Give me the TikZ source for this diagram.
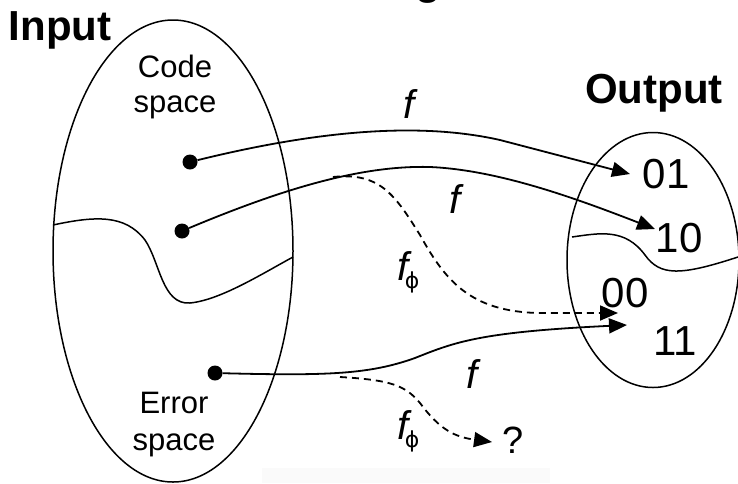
\documentclass[tikz,border=0pt]{standalone}
\usepackage{fontspec}
\setmainfont{Liberation Sans}
\newfontfamily\dvs{DejaVu Sans}
\usetikzlibrary{arrows.meta,shapes.geometric}
\begin{document}
\begin{tikzpicture}[x=1pt,y=-1pt,
  region/.style={draw,line width=1.5pt,ellipse,inner sep=0},
  border/.style={line width=1.5pt},
  map/.style={line width=1.8pt,-{Triangle[length=18pt,width=15pt]}},
  errmap/.style={map,dash pattern=on 7pt off 5pt},
  dot/.style={circle,fill,inner sep=0,minimum size=15pt},
  lbl/.style={inner sep=0,anchor=base},
  head/.style={lbl,font=\fontsize{42}{42}\selectfont\bfseries},
  spacelbl/.style={lbl,font=\fontsize{31}{35}\selectfont},
  bits/.style={lbl,font=\fontsize{42}{42}\selectfont},
  flbl/.style={lbl,font=\fontsize{40}{40}\selectfont\itshape},
  phlbl/.style={lbl,font=\fontsize{22}{22}\dvs},
  qlbl/.style={lbl,font=\fontsize{38}{38}\selectfont}]
\useasboundingbox (0,0) rectangle (738,483);
\fill[black!2] (262,468) rectangle (550,483);
% title fragment
\node[head] (title) at (428,-6) {g};
% regions
\node[region,minimum width=240pt,minimum height=462pt] (inset) at (173,251) {};
\node[region,minimum width=172pt,minimum height=255pt] (outset) at (653,260) {};
\draw[border] (53,225) .. controls (95,216) and (125,214) .. (145,240)
  .. controls (160,262) and (162,305) .. (190,303)
  .. controls (220,300) and (260,275) .. (293,257);
\draw[border] (572,237) .. controls (600,233) and (625,228) .. (645,255)
  .. controls (660,276) and (680,276) .. (738,257);
% labels
\node[head] (inlbl) at (60,40) {Input};
\node[head] (outlbl) at (654,103) {Output};
\node[spacelbl] (code1) at (175,77) {Code};
\node[spacelbl] (code2) at (175,112) {space};
\node[spacelbl] (err1) at (174,413) {Error};
\node[spacelbl] (err2) at (174,450) {space};
\node[bits] (b01) at (666,188) {01};
\node[bits] (b10) at (679,252) {10};
\node[bits] (b00) at (625,307) {00};
\node[bits] (b11) at (675,355) {11};
\node[qlbl] (unk) at (513,453) {?};
% points
\node[dot] (d1) at (190,162) {};
\node[dot] (d2) at (182,231) {};
\node[dot] (d3) at (215,373) {};
\coordinate (t1) at (630,174);
\coordinate (t2) at (655,229);
\coordinate (t3) at (627,325);
\coordinate (td1) at (618,313);
\coordinate (td2) at (492,442);
\coordinate (s1) at (333,177);
\coordinate (s2) at (340,377);
% maps
\draw[map] (d1) .. controls (320,130) and (420,122) .. (500,140) -- (t1);
\draw[map] (d2) .. controls (280,190) and (360,165) .. (430,167)
  .. controls (500,170) and (580,200) .. (t2);
\draw[map] (d3) .. controls (330,376) and (370,374) .. (415,358)
  .. controls (455,342) and (480,332) .. (t3);
\draw[errmap] (s1) .. controls (380,172) and (395,195) .. (420,235)
  .. controls (445,280) and (470,312) .. (540,313) -- (td1);
\draw[errmap] (s2) .. controls (390,380) and (405,385) .. (420,403)
  .. controls (440,430) and (455,437) .. (td2);
% map labels
\node[flbl] (f1) at (409,118) {f};
\node[flbl] (f2) at (455,213) {f};
\node[flbl] (f3) at (472,388) {f};
\node[flbl] (fp1) at (403,280) {f};
\node[phlbl] (p1) at (412,288) {ϕ};
\node[flbl] (fp2) at (403,439) {f};
\node[phlbl] (p2) at (412,447) {ϕ};
\end{tikzpicture}
\end{document}
